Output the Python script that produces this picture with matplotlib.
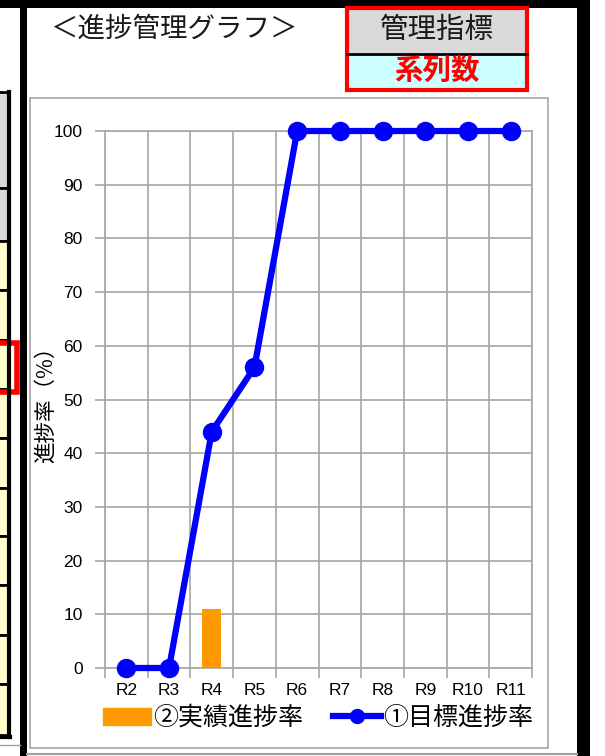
import matplotlib
matplotlib.use("Agg")
import matplotlib.pyplot as plt
from matplotlib.patches import Rectangle
from matplotlib.lines import Line2D

plt.rcParams["font.family"] = ["Noto Sans CJK JP", "DejaVu Sans"]

# data
categories = ["R2", "R3", "R4", "R5", "R6", "R7", "R8", "R9", "R10", "R11"]
target_rate = [0, 0, 44, 56, 100, 100, 100, 100, 100, 100]
actual_rate = [0, 0, 11, 0, 0, 0, 0, 0, 0, 0]
y_ticks = list(range(0, 101, 10))

W, H = 605, 756
fig = plt.figure(figsize=(W / 100, H / 100), dpi=100)
fig.patch.set_facecolor("white")

# background layer in pixel coordinates (sheet around the chart)
bg = fig.add_axes([0, 0, 1, 1])
bg.set_xlim(0, W)
bg.set_ylim(H, 0)
bg.axis("off")


def rect(x0, y0, x1, y1, **kw):
    bg.add_patch(Rectangle((x0, y0), x1 - x0, y1 - y0, **kw))


# black frame bars
rect(0, 0, 590, 8, color="black", lw=0)
rect(20, 0, 27, H, color="black", lw=0)
rect(577, 0, 590, H, color="black", lw=0)
bg.plot([27, 577], [754, 754], color="#A0A0A0", lw=1.5)

# partial table on the far left
rect(-5, 92, 9, 188, facecolor="#D9D9D9", edgecolor="black", lw=2)
rect(-5, 188, 9, 241, facecolor="#D9D9D9", edgecolor="black", lw=2)
rows = [241, 290, 340, 389, 438, 488, 536, 585, 635, 684, 735]
for a, b in zip(rows[:-1], rows[1:]):
    rect(-5, a, 9, b, facecolor="#FFFFCC", edgecolor="black", lw=2)
bg.plot([9, 9], [92, 737], color="black", lw=3)
bg.plot([0, 10], [737, 737], color="black", lw=3)
bg.plot([0, 20], [745, 745], color="#A0A0A0", lw=1)
rect(-5, 343, 17, 392, facecolor="none", edgecolor="#FF0000", lw=4)

# title and indicator box
bg.text(50, 29, "＜進捗管理グラフ＞", fontsize=19.8, va="center", ha="left",
        color="#1A1A1A")
rect(347, 8, 527, 53, facecolor="#D9D9D9", lw=0)
rect(347, 54, 527, 89, facecolor="#CCFFFF", lw=0)
bg.plot([347, 527], [53.5, 53.5], color="black", lw=2)
rect(347, 8, 527, 90, facecolor="none", edgecolor="#FF0000", lw=3)
bg.text(437, 30, "管理指標", fontsize=20.5, ha="center", va="center",
        color="#1A1A1A")
bg.text(437, 71, "系列数", fontsize=20.5, ha="center", va="center",
        color="#FF0000", fontweight="bold")

# chart border
rect(30, 98, 548, 748, facecolor="white", edgecolor="#A6A6A6", lw=1.2)

# plot area
x0, x1 = 105, 532
y_top, y_bot = 131, 668
ax = fig.add_axes([x0 / W, 1 - y_bot / H, (x1 - x0) / W, (y_bot - y_top) / H])
ax.set_facecolor("white")
xs = list(range(len(categories)))

ax.bar(xs, actual_rate, width=0.45, color="#FF9900", zorder=2)
ax.plot(xs, target_rate, color="#0000FF", lw=4.5, marker="o",
        markersize=13, zorder=3, clip_on=False)

ax.set_xlim(-0.5, len(categories) - 0.5)
ax.set_ylim(0, 100)
ax.set_yticks(y_ticks)
ax.set_yticklabels([str(v) for v in y_ticks], family="Liberation Sans",
                   fontsize=12.5)
ax.set_xticks(xs)
ax.set_xticklabels(categories, family="Liberation Sans", fontsize=12.5)
ax.set_xticks([i - 0.5 for i in range(len(categories) + 1)], minor=True)

grid_c = "#A6A6A6"
ax.grid(axis="y", which="major", color=grid_c, lw=1.2, zorder=0)
ax.grid(axis="x", which="minor", color=grid_c, lw=1.2, zorder=0)
ax.tick_params(axis="x", which="major", length=0, pad=11)
ax.tick_params(axis="x", which="minor", length=7, color=grid_c, width=1.2)
ax.tick_params(axis="y", length=7, color=grid_c, width=1.2, pad=9)
for side, sp in ax.spines.items():
    sp.set_color(grid_c)
    sp.set_linewidth(1.2)
ax.set_axisbelow(True)

ax.set_ylabel("進捗率（%）", fontsize=15.5, labelpad=-2)

# legend
handles = [
    Rectangle((0, 0), 1, 1, color="#FF9900"),
    Line2D([], [], color="#0000FF", lw=4.5, marker="o", markersize=10),
]
fig.legend(handles, ["②実績進捗率", "①目標進捗率"], loc="center",
           bbox_to_anchor=(318 / W, 1 - 718 / H), ncol=2, frameon=False,
           fontsize=18, handlelength=1.9, handleheight=0.65,
           columnspacing=1.2, handletextpad=0.1)

fig.savefig("out.png", dpi=100)
